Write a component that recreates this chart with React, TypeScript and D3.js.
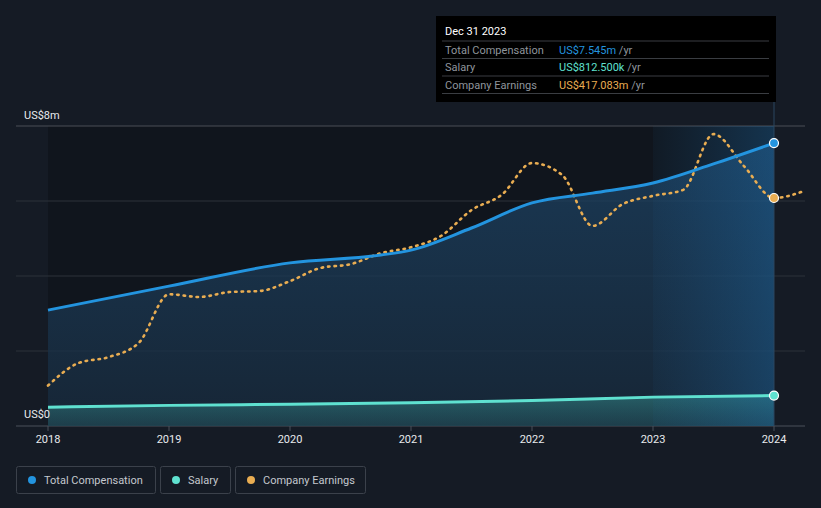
import React from 'react';
import { scaleLinear, line, area, curveMonotoneX } from 'd3';

// time in decimal years
const compYears = [2018, 2019, 2020, 2020.75, 2021, 2021.5, 2022, 2022.5, 2023, 2023.5, 2024];
const totalComp = [3.09, 3.73, 4.35, 4.56, 4.69, 5.28, 5.95, 6.21, 6.48, 6.99, 7.545];

const salaryYears = [2018, 2019, 2020, 2021, 2022, 2023, 2024];
const salary = [0.5, 0.55, 0.58, 0.62, 0.68, 0.77, 0.8125];

const earnYears = [2018, 2018.25, 2018.5, 2018.75, 2019, 2019.25, 2019.5, 2019.75, 2020, 2020.25, 2020.5, 2020.75,
  2021, 2021.25, 2021.5, 2021.75, 2022, 2022.25, 2022.5, 2022.75, 2023, 2023.25, 2023.5, 2023.75, 2024, 2024.25];
const earnings = [74, 115, 126, 152, 241, 236, 245, 247, 265, 289, 296, 316,
  327, 348, 395, 423, 481, 459, 366, 406, 421, 432, 534, 476, 417.083, 430];

const xTicks = [2018, 2019, 2020, 2021, 2022, 2023, 2024];
const yTicks = [0, 2, 4, 6, 8];
const yLabels = ['US$0', 'US$8m'];

const tooltipRows = [
  { label: 'Total Compensation', value: 'US$7.545m', color: '#2394df' },
  { label: 'Salary', value: 'US$812.500k', color: '#5fe1d0' },
  { label: 'Company Earnings', value: 'US$417.083m', color: '#e9ad52' },
];
const legendItems = [
  { label: 'Total Compensation', color: '#2394df', w: 139 },
  { label: 'Salary', color: '#5fe1d0', w: 70 },
  { label: 'Company Earnings', color: '#e9ad52', w: 130 },
];

const W = 821;
const H = 508;
const plot = { left: 16, right: 805, top: 126, bottom: 426 };

const App: React.FC = () => {
  const x = scaleLinear().domain([2018, 2024]).range([48, 774]);
  const y = scaleLinear().domain([0, 8]).range([plot.bottom, plot.top]);
  const yEarn = scaleLinear().domain([0, 548.8]).range([plot.bottom, plot.top]);

  const compPts = compYears.map((t, i) => [t, totalComp[i]] as [number, number]);
  const salPts = salaryYears.map((t, i) => [t, salary[i]] as [number, number]);
  const earnPts = earnYears.map((t, i) => [t, earnings[i]] as [number, number]);

  const compLine = line<[number, number]>().x(d => x(d[0])).y(d => y(d[1])).curve(curveMonotoneX);
  const compArea = area<[number, number]>().x(d => x(d[0])).y0(y(0)).y1(d => y(d[1])).curve(curveMonotoneX);
  const earnLine = line<[number, number]>().x(d => x(d[0])).y(d => yEarn(d[1])).curve(curveMonotoneX);

  const font = 'Roboto, "Noto Sans", sans-serif';
  const hoverX0 = x(2023);
  const hoverX1 = x(2024);

  let lx = 16;
  const legend = legendItems.map(it => {
    const g = { ...it, x: lx };
    lx += it.w + 5;
    return g;
  });

  return (
    <svg width={W} height={H} style={{ position: 'absolute', left: 0, top: 0, background: '#151b25' }} fontFamily={font}>
      <defs>
        <linearGradient id="compFill" x1="0" y1="0" x2="0" y2="1">
          <stop offset="0%" stopColor="#1d4466" stopOpacity={0.75} />
          <stop offset="100%" stopColor="#182a3c" stopOpacity={0.8} />
        </linearGradient>
        <linearGradient id="salFill" x1="0" y1="0" x2="0" y2="1">
          <stop offset="0%" stopColor="#3aa39e" stopOpacity={0.45} />
          <stop offset="100%" stopColor="#2a6a72" stopOpacity={0.35} />
        </linearGradient>
        <linearGradient id="band" x1="0" y1="0" x2="1" y2="0">
          <stop offset="0%" stopColor="#1f6fb0" stopOpacity={0.05} />
          <stop offset="100%" stopColor="#1f7ac0" stopOpacity={0.3} />
        </linearGradient>
      </defs>
      <rect x={0} y={0} width={W} height={H} fill="#151b25" />
      {/* dimmed region before hovered period */}
      <rect x={x(2018)} y={plot.top} width={hoverX0 - x(2018)} height={plot.bottom - plot.top} fill="#0c1016" opacity={0.5} />
      <rect x={hoverX0} y={plot.top} width={hoverX1 - hoverX0} height={plot.bottom - plot.top} fill="#0c1118" opacity={0.5} />

      {yTicks.map(t => (
        <line key={t} x1={plot.left} x2={plot.right} y1={y(t)} y2={y(t)}
          stroke={t === 0 ? '#4a505a' : t === 8 ? '#4a4f57' : '#2c323b'} strokeWidth={1} />
      ))}

      <path d={compArea(compPts) || ''} fill="url(#compFill)" />
      <path d={compArea(salPts) || ''} fill="url(#salFill)" />
      <rect x={hoverX0} y={plot.top} width={hoverX1 - hoverX0} height={plot.bottom - plot.top} fill="url(#band)" />

      <line x1={hoverX1} x2={hoverX1} y1={16} y2={plot.bottom} stroke="#2a4660" strokeWidth={1} />

      <path d={compLine(salPts) || ''} fill="none" stroke="#5fe1d0" strokeWidth={3} />
      <path d={earnLine(earnPts) || ''} fill="none" stroke="#e9ad52" strokeWidth={2.6}
        strokeDasharray="1.5 5" strokeLinecap="round" />
      <path d={compLine(compPts) || ''} fill="none" stroke="#2394df" strokeWidth={3} />

      <circle cx={x(2024)} cy={y(7.545)} r={4.5} fill="#2394df" stroke="#fff" strokeWidth={1.2} />
      <circle cx={x(2024)} cy={yEarn(417.083)} r={4.5} fill="#e9ad52" stroke="#fff" strokeWidth={1.2} />
      <circle cx={x(2024)} cy={y(0.8125)} r={4.5} fill="#5fe1d0" stroke="#fff" strokeWidth={1.2} />

      {/* axes */}
      {xTicks.map(t => (
        <g key={t}>
          <line x1={x(t)} x2={x(t)} y1={plot.bottom} y2={plot.bottom + 5} stroke="#4a505a" />
          <text x={x(t)} y={443} textAnchor="middle" fill="#e8eaed" fontSize={11}>{t}</text>
        </g>
      ))}
      <text x={24} y={119} fill="#e8eaed" fontSize={11}>{yLabels[1]}</text>
      <text x={24} y={418} fill="#e8eaed" fontSize={11}>{yLabels[0]}</text>

      {/* tooltip */}
      <g>
        <rect x={436} y={16} width={340} height={86} fill="#000" />
        <text x={445} y={35} fill="#fff" fontSize={11}>Dec 31 2023</text>
        {tooltipRows.map((r, i) => {
          const ry = 41 + i * 17.5;
          return (
            <g key={r.label}>
              <line x1={442} x2={769} y1={ry} y2={ry} stroke="#3a3d42" />
              <text x={445} y={ry + 12.5} fill="#8f959c" fontSize={11}>{r.label}</text>
              <text x={559} y={ry + 12.5} fontSize={11}>
                <tspan fill={r.color}>{r.value}</tspan>
                <tspan fill="#8f959c"> /yr</tspan>
              </text>
            </g>
          );
        })}
        <line x1={442} x2={769} y1={41 + 3 * 17.5} y2={41 + 3 * 17.5} stroke="#3a3d42" />
      </g>

      {/* legend */}
      {legend.map(it => (
        <g key={it.label}>
          <rect x={it.x + 0.5} y={466.5} width={it.w} height={27} rx={2} fill="none" stroke="#3b414b" />
          <circle cx={it.x + 16} cy={480} r={4} fill={it.color} />
          <text x={it.x + 28} y={484} fill="#c4c8ce" fontSize={11}>{it.label}</text>
        </g>
      ))}
    </svg>
  );
};

export default App;
